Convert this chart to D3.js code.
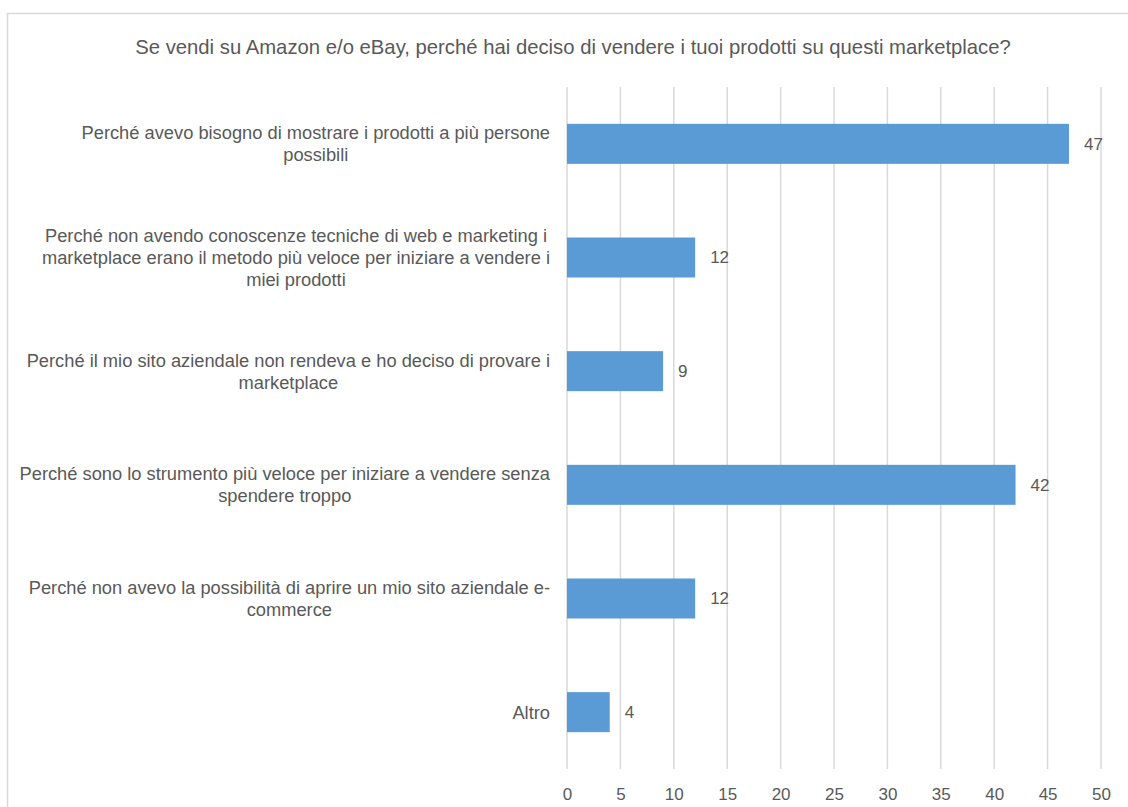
<!DOCTYPE html>
<html>
<head>
<meta charset="utf-8">
<script src="https://cdn.jsdelivr.net/npm/d3@7"></script>
<style>
  html, body { margin: 0; padding: 0; background: #fff; }
  svg { display: block; }
  text { font-family: "Liberation Sans", Arial, Helvetica, sans-serif; fill: #595959; }
</style>
</head>
<body>
<svg id="chart" width="1128" height="807"></svg>
<script>
// Survey answers (one bar per reason) and their counts
const categories = [
  "Perché avevo bisogno di mostrare i prodotti a più persone\npossibili",
  "Perché non avendo conoscenze tecniche di web e marketing i\nmarketplace erano il metodo più veloce per iniziare a vendere i\nmiei prodotti",
  "Perché il mio sito aziendale non rendeva e ho deciso di provare i\nmarketplace",
  "Perché sono lo strumento più veloce per iniziare a vendere senza\nspendere troppo",
  "Perché non avevo la possibilità di aprire un mio sito aziendale e-\ncommerce",
  "Altro"
];
const values = [47, 12, 9, 42, 12, 4];
const tickValues = [0, 5, 10, 15, 20, 25, 30, 35, 40, 45, 50];
const title = "Se vendi su Amazon e/o eBay, perché hai deciso di vendere i tuoi prodotti su questi marketplace?";

const svg = d3.select("#chart");

// outer chart frame
svg.append("rect")
  .attr("x", 7.5).attr("y", 13.5)
  .attr("width", 1140).attr("height", 820)
  .attr("fill", "none").attr("stroke", "#d9d9d9").attr("stroke-width", 1.5);

const plot = { left: 567, right: 1101, top: 87, bottom: 769 };

const x = d3.scaleLinear().domain([0, 50]).range([plot.left, plot.right]);
const y = d3.scaleBand().domain(d3.range(categories.length))
  .range([plot.top, plot.bottom]).paddingInner(0.648).paddingOuter(0.324);

// title
svg.append("text")
  .attr("x", 573).attr("y", 54)
  .attr("text-anchor", "middle")
  .style("font-size", "20.3px")
  .text(title);

// vertical gridlines
svg.append("g").selectAll("line")
  .data(tickValues)
  .join("line")
  .attr("x1", d => x(d)).attr("x2", d => x(d))
  .attr("y1", plot.top).attr("y2", plot.bottom)
  .attr("stroke", "#d9d9d9").attr("stroke-width", 1.5);

// bottom axis labels
const axis = d3.axisBottom(x).tickValues(tickValues).tickSize(0).tickPadding(0);
const axisG = svg.append("g")
  .attr("transform", `translate(0,${plot.bottom})`)
  .call(axis);
axisG.select(".domain").remove();
axisG.selectAll("text")
  .attr("y", 31).attr("dy", null)
  .style("font-size", "17px")
  .style("font-family", "'Liberation Sans', Arial, sans-serif")
  .attr("fill", "#595959");

// bars
svg.append("g").selectAll("rect")
  .data(values)
  .join("rect")
  .attr("x", x(0))
  .attr("y", (d, i) => y(i))
  .attr("width", d => x(d) - x(0))
  .attr("height", y.bandwidth())
  .attr("fill", "#5b9bd5");

// value labels
svg.append("g").selectAll("text")
  .data(values)
  .join("text")
  .attr("x", d => x(d) + 15)
  .attr("y", (d, i) => y(i) + y.bandwidth() / 2)
  .attr("dy", "0.35em")
  .style("font-size", "17px")
  .text(d => d);

// category labels: centred lines, block right-aligned to the axis
const lineH = 22;
const labelRight = 550;
const catG = svg.append("g");
categories.forEach((c, i) => {
  const lines = c.split("\n");
  const cy = y(i) + y.bandwidth() / 2;
  const t = catG.append("text")
    .attr("text-anchor", "middle")
    .style("font-size", "18.3px");
  lines.forEach((ln, k) => {
    t.append("tspan")
      .attr("y", cy + (k - (lines.length - 1) / 2) * lineH)
      .attr("dy", "0.35em")
      .text(ln);
  });
  let maxW = 0;
  t.selectAll("tspan").each(function () {
    maxW = Math.max(maxW, this.getComputedTextLength());
  });
  t.selectAll("tspan").attr("x", labelRight - maxW / 2);
});
</script>
</body>
</html>
